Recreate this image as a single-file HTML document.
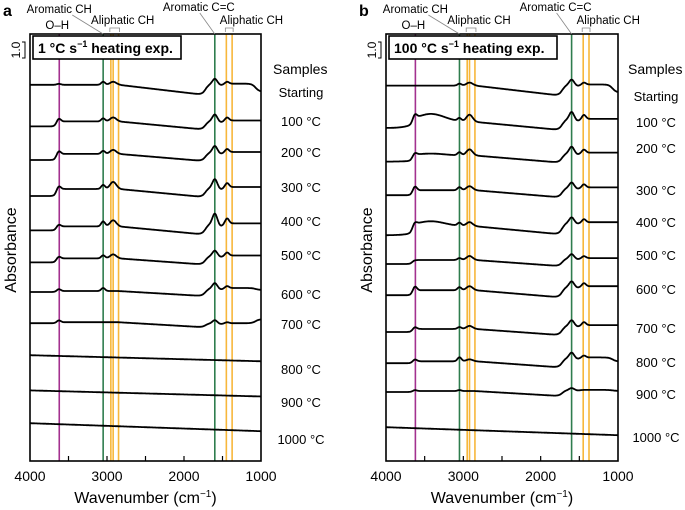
<!DOCTYPE html>
<html><head><meta charset="utf-8"><style>
body{margin:0;background:#fff}
svg{display:block;font-family:"Liberation Sans",Arial,sans-serif}
</style></head><body>
<svg id="chart" width="685" height="510" viewBox="0 0 685 510"></svg>
<script>
// ---- data ----
const tickLabels = [4000, 3000, 2000, 1000];
const bandWavenumbers = [3620, 3050, 2950, 2920, 2850, 1600, 1450, 1375];
const bandKinds = ["oh","arom","aliph","aliph","aliph","arom","aliph","aliph"];
const sampleLabels = ["Starting","100 °C","200 °C","300 °C","400 °C","500 °C","600 °C","700 °C","800 °C","900 °C","1000 °C"];
// panel a (1 °C/s) offsets (absorbance units from top, 16 px/unit) and feature amplitudes
const aOffset = [5.3,7.9,10.0,12.25,14.4,16.4,18.25,20.2,22.2,24.4,26.45];
const aStep   = [0,0.31,0.38,0.44,0.25,0.25,0.06,0.06,0,0,0];
const aOHpk   = [0.06,0.19,0.19,0.19,0.12,0.12,0.12,0.12,0,0,0];
const aArCH   = [0.19,0.19,0.19,0.25,0.31,0.19,0.19,0,0,0,0];
const aAlCH   = [0.19,0.25,0.25,0.44,0.38,0.25,0,0,0,0,0];
const aDrift  = [0.62,0.5,0.44,0.5,0.5,0.38,0.31,0.31,0,0,0];
const aPlat   = [0.69,0.56,0.56,0.62,0.69,0.56,0.5,0.25,0,0,0];
const aCC     = [0.31,0.38,0.38,0.5,0.62,0.31,0.31,0.19,0,0,0];
const aAl2    = [0.12,0.19,0.19,0.25,0.31,0.19,0.12,0.06,0,0,0];
const aEnd    = [0.5,0,0,0,0,0,0.12,-0.25,0,0,0];
const aTilt   = [0,0,0,0,0,0,0,0,0.38,0.38,0.5];
const aLabelY = [97,126,157,192,226,260,299,329,374,407,444];
// panel b (100 °C/s)
const bOffset = [5.35,8.0,10.1,12.2,14.7,16.5,18.45,20.75,22.7,24.5,26.7];
const bStep   = [0,0.38,0.38,0.31,0.56,0.25,0.31,0.19,0.12,0.06,0];
const bBroad  = [0,0.5,0.12,0,0.31,0,0,0,0,0,0];
const bOHpk   = [0,0.25,0.12,0.25,0.12,0,0.25,0.12,0.12,0.06,0];
const bArCH   = [0.12,0.19,0.19,0.19,0.19,0.12,0.19,0.12,0.25,0.06,0];
const bAlCH   = [0.19,0.44,0.38,0.25,0.25,0.25,0.25,0.19,0.12,0,0];
const bDrift  = [0.62,0.5,0.44,0.44,0.5,0.38,0.44,0.38,0.38,0.31,0];
const bPlat   = [0.69,0.69,0.62,0.62,0.75,0.5,0.69,0.62,0.62,0.38,0];
const bCC     = [0.31,0.44,0.38,0.31,0.31,0.25,0.31,0.31,0.31,0.12,0];
const bAl2    = [0.12,0.25,0.19,0.19,0.19,0.12,0.19,0.19,0.12,0,0];
const bEnd    = [0.5,0,0,0,0,0,0,0,0.25,0.06,0];
const bTilt   = [0,0,0,0,0,0,0,0,0,0,0.5];
const bLabelY = [101,127,153,195,227,260,294,333,367,399,442];

const NS="http://www.w3.org/2000/svg";
const svg=document.getElementById('chart');
function mk(tag,attrs,parent,text){const e=document.createElementNS(NS,tag);for(const k in attrs)e.setAttribute(k,attrs[k]);if(text!==undefined)e.textContent=text;(parent||svg).appendChild(e);return e;}
const colors={oh:"#a3318f",arom:"#2f7d4e",aliph:"#f7b73b"};
const gau=(w,c,s)=>Math.exp(-((w-c)*(w-c))/(2*s*s));
const sig=x=>1/(1+Math.exp(-x));
const PX=16, TOP=34, BOT=461;

function panel(p){
  const x0=p.x0,x1=p.x1;
  const X=w=>x0+(4000-w)/3000*(x1-x0);
  const Y=v=>v*PX;
  const grp=mk('g',{});
  
  
  bandWavenumbers.forEach((w,i)=>{
    const l=mk('line',{x1:X(w),x2:X(w),y1:TOP,y2:BOT,stroke:colors[bandKinds[i]],'stroke-width':1.6},grp);
    
    
  });
  sampleLabels.forEach((lab,i)=>{
    let d="";
    for(let w=4000;w>=1000;w-=5){
      const drift=Math.min(Math.max((2850-w)/1100,0),1);
      let A = p.step[i]*sig((3660-w)/15)
        + (p.broad?p.broad[i]*gau(w,3420,180):0)
        + p.ohpk[i]*gau(w,3625,25)
        + p.ar[i]*gau(w,3050,25)
        + p.al[i]*gau(w,2920,40)
        - p.drift[i]*drift
        + p.plat[i]*sig((1720-w)/25)
        + p.cc[i]*gau(w,1600,30)
        - 0.25*p.cc[i]*gau(w,1520,30)
        + p.al2[i]*gau(w,1440,25)
        - p.end[i]*sig((1070-w)/25)
        - p.tilt[i]*(4000-w)/3000;
      d+=(d?"L":"M")+X(w).toFixed(1)+","+(Y(p.off[i])-A*PX).toFixed(1);
    }
    const path=mk('path',{d:d,fill:"none",stroke:"#000","stroke-width":1.8,"stroke-linejoin":"round"},grp);
    
    
    const t=mk('text',{x:p.labX,y:p.labY[i],'font-size':13,'text-anchor':'middle'},grp,lab);
    
    
  });
  const fr=mk('rect',{x:x0,y:TOP,width:x1-x0,height:BOT-TOP,fill:"none",stroke:"#000","stroke-width":1.6},grp);
  
  
  for(let w=3500;w>1000;w-=500){
    const tk=mk('line',{x1:X(w),x2:X(w),y1:BOT,y2:BOT-5,stroke:"#000","stroke-width":1.2},grp);
    
    
  }
  tickLabels.forEach(w=>{
    const t=mk('text',{x:X(w),y:481,'font-size':14,'text-anchor':'middle'},grp,String(w));
    
    
  });
  const xt=mk('text',{x:(x0+x1)/2,y:503,'font-size':16,'text-anchor':'middle'},grp);
  xt.innerHTML='Wavenumber (cm<tspan font-size="10" dy="-6">−1</tspan><tspan dy="6">)</tspan>';
  
  
  const yt=mk('text',{x:0,y:0,'font-size':16,'text-anchor':'middle',transform:'translate('+(x0-14)+',250) rotate(-90)'},grp,'Absorbance');
  
  
  const sm=mk('text',{x:p.labX-28,y:74,'font-size':14},grp,'Samples');
  
  
  const pl=mk('text',{x:x0-27,y:16,'font-size':16,'font-weight':'bold'},grp,p.letter);
  
  
  const sb=mk('path',{d:'M'+(x0-8)+',42 H'+(x0-5)+' V58 H'+(x0-8),fill:"none",stroke:"#000","stroke-width":1},grp);
  
  
  const sbt=mk('text',{x:0,y:0,'font-size':12,'text-anchor':'middle',transform:'translate('+(x0-10)+',50) rotate(-90)'},grp,'1.0');
  
  
  const lb=mk('rect',{x:x0+3,y:36,width:p.boxW,height:23,fill:"#fff",stroke:"#000","stroke-width":1.6},grp);
  
  
  const lt=mk('text',{x:x0+8,y:53,'font-size':14,'font-weight':'bold'},grp);
  lt.innerHTML=p.rate+' °C s<tspan font-size="9" dy="-6">−1</tspan><tspan dy="6"> heating exp.</tspan>';
  
  
  const ann=[["Aromatic CH",X(3620),13],["O–H",X(3620)-2,29],["Aliphatic CH",X(2900)+8,24],["Aromatic C=C",X(1600)-16,11],["Aliphatic CH",X(1410)+22,24]];
  ann.forEach(a=>{
    const t=mk('text',{x:a[1],y:a[2],'font-size':11.5,'text-anchor':'middle'},grp,a[0]);
    
    
  });
  [[X(3620)+13,15,X(3050),34],[X(1600)-15,13,X(1600),34]].forEach(l=>{
    const e=mk('line',{x1:l[0],y1:l[1],x2:l[2],y2:l[3],stroke:"#888","stroke-width":0.8},grp);
    
    
  });
  [[2950,2850],[1450,1375]].forEach(b=>{
    const e=mk('path',{d:'M'+(X(b[0])-1)+',32 V28 H'+(X(b[1])+1)+' V32',fill:"none",stroke:"#888","stroke-width":0.8},grp);
    
    
  });
}
panel({name:'a',letter:'a',rate:'1',x0:30,x1:261,labX:301,labY:aLabelY,boxW:148,off:aOffset,step:aStep,ohpk:aOHpk,ar:aArCH,al:aAlCH,drift:aDrift,plat:aPlat,cc:aCC,al2:aAl2,end:aEnd,tilt:aTilt});
panel({name:'b',letter:'b',rate:'100',x0:386,x1:618,labX:656,labY:bLabelY,boxW:168,off:bOffset,step:bStep,broad:bBroad,ohpk:bOHpk,ar:bArCH,al:bAlCH,drift:bDrift,plat:bPlat,cc:bCC,al2:bAl2,end:bEnd,tilt:bTilt});
</script>
</body></html>
